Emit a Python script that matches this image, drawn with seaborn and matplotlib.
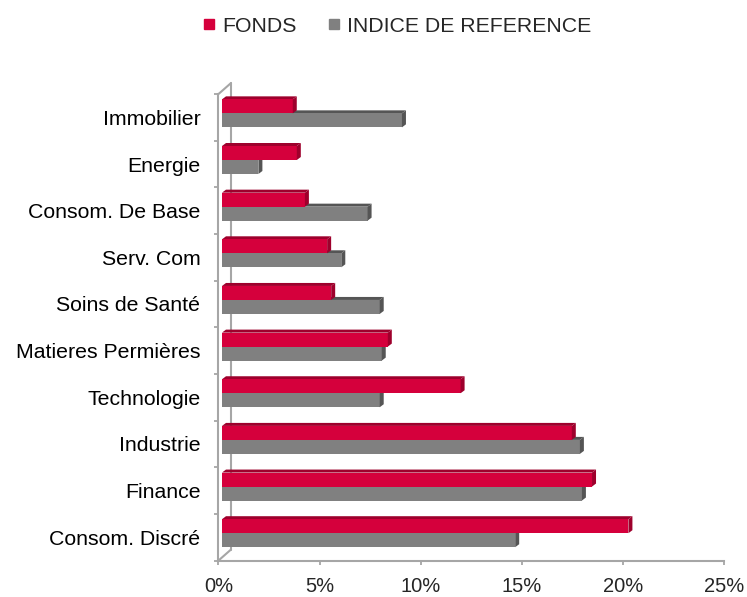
import matplotlib
matplotlib.use('Agg')
import matplotlib.pyplot as plt
import seaborn as sns
import pandas as pd
from matplotlib.patches import Polygon
from matplotlib.lines import Line2D
from matplotlib.transforms import ScaledTranslation, IdentityTransform

# données (% du portefeuille)
secteurs = ["Immobilier", "Energie", "Consom. De Base", "Serv. Com", "Soins de Santé",
            "Matieres Permières", "Technologie", "Industrie", "Finance", "Consom. Discré"]
fonds = [3.5, 3.7, 4.1, 5.2, 5.4, 8.2, 11.8, 17.3, 18.3, 20.1]
indice = [8.9, 1.8, 7.2, 5.9, 7.8, 7.9, 7.8, 17.7, 17.8, 14.5]
series = ["FONDS", "INDICE DE REFERENCE"]
xticks = [0, 5, 10, 15, 20, 25]

RED = "#D5003C"
RED_DARK = "#9E002C"
GREY = "#808080"
GREY_DARK = "#555555"
AXIS = "#A6A6A6"

sns.set_theme(style="white")
plt.rcParams['font.family'] = ['Liberation Sans', 'DejaVu Sans']

df = pd.DataFrame({
    'secteur': secteurs * 2,
    'poids': fonds + indice,
    'serie': [series[0]] * len(fonds) + [series[1]] * len(indice),
})

fig = plt.figure(figsize=(7.47, 5.97), dpi=100)
ax = fig.add_axes([0.2925, 0.0611, 0.6767, 0.7814])
sns.barplot(data=df, y='secteur', x='poids', hue='serie', orient='h',
            palette=[RED, GREY], width=0.6, saturation=1, errorbar=None,
            legend=False, linewidth=0, edgecolor='none', ax=ax)

ax.set_xlim(0, 25)
ax.set_ylim(len(secteurs) - 0.5, -0.5)
ax.set_xticks(xticks)
ax.set_xticklabels([f"{v}%" for v in xticks], fontsize=14.5)
ax.set_yticks(range(len(secteurs)))
ax.set_yticklabels(secteurs, fontsize=15.3)
ax.set_yticks([i - 0.5 for i in range(len(secteurs) + 1)], minor=True)
ax.set_xlabel('')
ax.set_ylabel('')
ax.tick_params(axis='y', which='major', length=0, pad=13, colors='black')
ax.tick_params(axis='y', which='minor', left=True, length=3, width=1.3, color=AXIS, direction='out')
ax.tick_params(axis='x', bottom=True, length=3, width=1.3, color=AXIS, direction='out', pad=9)
for side in ['top', 'right']:
    ax.spines[side].set_visible(False)
for side in ['left', 'bottom']:
    ax.spines[side].set_color(AXIS)
    ax.spines[side].set_linewidth(1.5)

# pseudo 3D: bars pushed back, top and side faces added
fig.canvas.draw()
bar_off = (3.5, 4.0)   # pixels
depth = (4.0, 3.0)
wall = (12.5, 11.0)
shift = ScaledTranslation(bar_off[0] / 100, bar_off[1] / 100, fig.dpi_scale_trans)

for cont, dark, z in [(ax.containers[1], GREY_DARK, 1.4), (ax.containers[0], RED_DARK, 2.4)]:
    for rect in cont:
        rect.set_transform(ax.transData + shift)
        rect.set_zorder(z)
        x0, y0 = rect.get_x(), rect.get_y()
        x1, y1 = x0 + rect.get_width(), y0 + rect.get_height()
        (L, T), (R, B) = ax.transData.transform([(x0, y0), (x1, y1)])
        L += bar_off[0]; R += bar_off[0]
        T += bar_off[1]; B += bar_off[1]
        dx, dy = depth
        top = Polygon([(L, T), (R, T), (R + dx, T + dy), (L + dx, T + dy)], closed=True,
                      facecolor=dark, edgecolor='none', transform=IdentityTransform(),
                      clip_on=False, zorder=z - 0.2)
        side = Polygon([(R, B), (R, T), (R + dx, T + dy), (R + dx, B + dy)], closed=True,
                       facecolor=dark, edgecolor='none', transform=IdentityTransform(),
                       clip_on=False, zorder=z + 0.1)
        ax.add_patch(top)
        ax.add_patch(side)

# back wall and floor corner
wall_tr = ax.transAxes + ScaledTranslation(wall[0] / 100, wall[1] / 100, fig.dpi_scale_trans)
ax.add_line(Line2D([0, 0], [0, 1], transform=wall_tr, color=AXIS, lw=1.5, zorder=1, clip_on=False))
for yy in [0, 1]:
    (px, py), = ax.transAxes.transform([(0, yy)])
    ax.add_line(Line2D([px, px + wall[0]], [py, py + wall[1]], transform=IdentityTransform(),
                       color=AXIS, lw=1.5, zorder=1, clip_on=False))

handles = [Line2D([], [], marker='s', linestyle='none', markersize=7, color=c) for c in [RED, GREY]]
fig.legend(handles, series, loc='center', bbox_to_anchor=(396 / 747, 1 - 26 / 597), ncol=2,
           frameon=False, fontsize=15.3, handletextpad=0.2, columnspacing=1.4, handlelength=0.8)

fig.savefig('out.png', dpi=100, facecolor='white')
